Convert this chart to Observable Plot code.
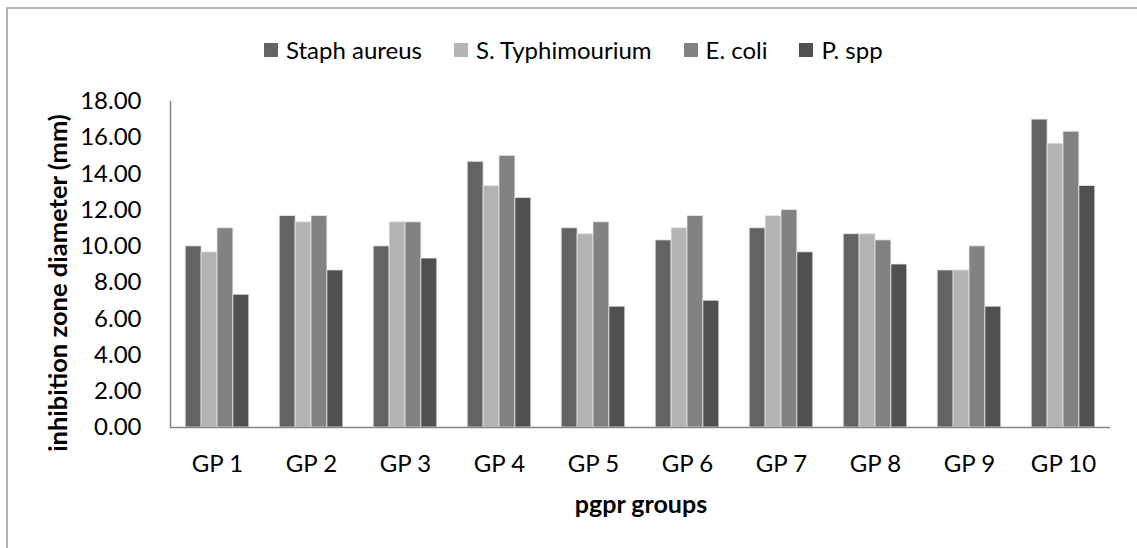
<!DOCTYPE html>
<html>
<head>
<meta charset="utf-8">
<script src="https://cdn.jsdelivr.net/npm/d3@7"></script>
<script src="https://cdn.jsdelivr.net/npm/@observablehq/plot@0.6"></script>
<style>
  html, body { margin: 0; padding: 0; background: #fff; }
  #wrap { position: relative; width: 1137px; height: 548px; overflow: hidden; font-family: Lato, "Open Sans", sans-serif; color: #000; }
  #border { position: absolute; left: 6px; top: 7px; width: 1200px; height: 600px; border-top: 2px solid #b3b3b3; border-left: 2px solid #b3b3b3; }
  #chart { position: absolute; left: 0; top: 0; }
  #legend { position: absolute; left: 264px; top: 35px; display: flex; align-items: center; font-size: 24px; white-space: nowrap; }
  #legend .item { display: flex; align-items: center; margin-right: 32px; }
  #legend .sw { width: 14px; height: 14px; margin-right: 8px; }
  #ytitle { position: absolute; left: 57px; top: 283px; transform: translate(-50%, -50%) rotate(-90deg); font-size: 25.5px; font-weight: bold; white-space: nowrap; }
  #xtitle { position: absolute; left: 641px; top: 503px; transform: translate(-50%, -50%); font-size: 25px; font-weight: bold; white-space: nowrap; }
</style>
</head>
<body>
<div id="wrap">
  <div id="border"></div>
  <div id="chart"></div>
  <div id="legend"></div>
  <div id="ytitle"></div>
  <div id="xtitle"></div>
</div>
<script>
const groups = ["GP 1", "GP 2", "GP 3", "GP 4", "GP 5", "GP 6", "GP 7", "GP 8", "GP 9", "GP 10"];
const series = ["Staph aureus", "S. Typhimourium", "E. coli", "P. spp"];
const staphAureus = [10.00, 11.67, 10.00, 14.67, 11.00, 10.33, 11.00, 10.67, 8.67, 17.00];
const sTyphimourium = [9.67, 11.33, 11.33, 13.33, 10.67, 11.00, 11.67, 10.67, 8.67, 15.67];
const eColi = [11.00, 11.67, 11.33, 15.00, 11.33, 11.67, 12.00, 10.33, 10.00, 16.33];
const pSpp = [7.33, 8.67, 9.33, 12.67, 6.67, 7.00, 9.67, 9.00, 6.67, 13.33];
const colors = ["#636363", "#b3b3b3", "#828282", "#505050"];
const yTicks = [0, 2, 4, 6, 8, 10, 12, 14, 16, 18];
const yTitle = "inhibition zone diameter (mm)";
const xTitle = "pgpr groups";

const seriesValues = [staphAureus, sTyphimourium, eColi, pSpp];
const table = [];
groups.forEach((g, i) => {
  series.forEach((s, j) => table.push({group: g, series: s, value: seriesValues[j][i]}));
});

const chart = Plot.plot({
  width: 1137,
  height: 548,
  marginLeft: 167,
  marginRight: 24,
  marginTop: 101,
  marginBottom: 121,
  style: {fontFamily: "Lato, 'Open Sans', sans-serif", fontSize: "24px", color: "#000", background: "transparent"},
  fx: {domain: groups, padding: 0, label: null, axis: "bottom", tickSize: 0, tickPadding: 27},
  x: {domain: series, paddingInner: 0, paddingOuter: 0.956, round: false, axis: null},
  y: {domain: [0, 18], ticks: yTicks, tickFormat: d3.format(".2f"), tickSize: 0, tickPadding: 29, label: null},
  color: {domain: series, range: colors},
  marks: [
    Plot.barY(table, {fx: "group", x: "series", y: "value", fill: "series", stroke: "#e6e6e6", strokeWidth: 0.8}),
    Plot.ruleY([0], {stroke: "#868686", strokeWidth: 1.5}),
    Plot.frame({anchor: "left", facetAnchor: "left", stroke: "#868686", strokeWidth: 1.5})
  ]
});
document.getElementById("chart").appendChild(chart);

const legend = document.getElementById("legend");
series.forEach((s, j) => {
  const item = document.createElement("div");
  item.className = "item";
  const sw = document.createElement("div");
  sw.className = "sw";
  sw.style.background = colors[j];
  const t = document.createElement("span");
  t.textContent = s;
  item.appendChild(sw);
  item.appendChild(t);
  legend.appendChild(item);
});
document.getElementById("ytitle").textContent = yTitle;
document.getElementById("xtitle").textContent = xTitle;
</script>
</body>
</html>
